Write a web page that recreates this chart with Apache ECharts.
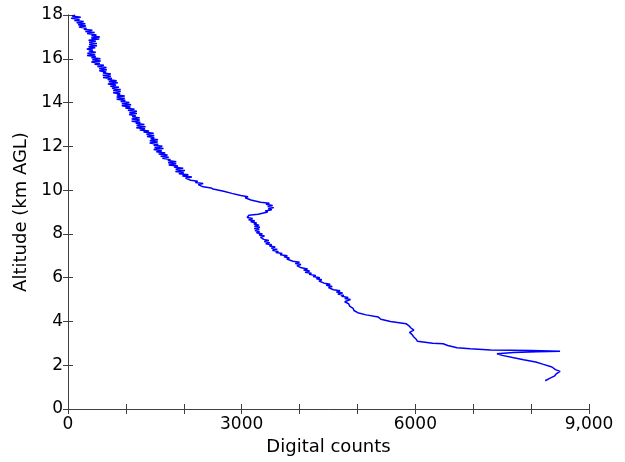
<!DOCTYPE html>
<html>
<head>
<meta charset="utf-8">
<title>Altitude profile</title>
<script src="https://cdn.jsdelivr.net/npm/echarts@6/dist/echarts.min.js"></script>
<style>
  html, body { margin: 0; padding: 0; background: #fff; }
  #container { width: 625px; height: 462px; }
</style>
</head>
<body>
<div id="container"></div>
<script>
// altitude (km AGL) in path order, low end first
var altitude = [
  1.29, 1.40, 1.50, 1.62, 1.72, 1.80, 1.92, 2.05, 2.15, 2.25, 2.35, 2.45, 2.52,
  2.58, 2.62, 2.64, 2.67, 2.70, 2.75, 2.80, 2.90, 2.98,
  3.0, 3.1, 3.2, 3.3, 3.4, 3.5, 3.6, 3.7, 3.8, 3.9,
  4.0, 4.1, 4.2, 4.3, 4.4, 4.5, 4.6, 4.7, 4.8, 4.9,
  5.0, 5.05, 5.1, 5.15, 5.2, 5.25, 5.3, 5.35, 5.4, 5.45,
  5.5, 5.55, 5.6, 5.65, 5.7, 5.75, 5.8, 5.85, 5.9, 5.95,
  6.0, 6.05, 6.1, 6.15, 6.2, 6.25, 6.3, 6.35, 6.4, 6.45,
  6.5, 6.55, 6.6, 6.65, 6.7, 6.75, 6.8, 6.85, 6.9, 6.95,
  7.0, 7.05, 7.1, 7.15, 7.2, 7.25, 7.3, 7.35, 7.4, 7.45,
  7.5, 7.55, 7.6, 7.65, 7.7, 7.75, 7.8, 7.85, 7.9, 7.95,
  8.0, 8.05, 8.1, 8.15, 8.2, 8.25, 8.3, 8.35, 8.4, 8.45,
  8.5, 8.55, 8.6, 8.65, 8.7, 8.75, 8.8, 8.85, 8.9, 8.95,
  9.0, 9.05, 9.1, 9.15, 9.2, 9.25, 9.3, 9.35, 9.4, 9.45,
  9.5, 9.55, 9.6, 9.65, 9.7, 9.75, 9.8, 9.85, 9.9, 9.95,
  10.0, 10.05, 10.1, 10.15, 10.2, 10.25, 10.3, 10.35, 10.4, 10.45,
  10.5, 10.55, 10.6, 10.65, 10.7, 10.75, 10.8, 10.85, 10.9, 10.95,
  11.0, 11.05, 11.1, 11.15, 11.2, 11.25, 11.3, 11.35, 11.4, 11.45,
  11.5, 11.55, 11.6, 11.65, 11.7, 11.75, 11.8, 11.85, 11.9, 11.95,
  12.0, 12.05, 12.1, 12.15, 12.2, 12.25, 12.3, 12.35, 12.4, 12.45,
  12.5, 12.55, 12.6, 12.65, 12.7, 12.75, 12.8, 12.85, 12.9, 12.95,
  13.0, 13.05, 13.1, 13.15, 13.2, 13.25, 13.3, 13.35, 13.4, 13.45,
  13.5, 13.55, 13.6, 13.65, 13.7, 13.75, 13.8, 13.85, 13.9, 13.95,
  14.0, 14.05, 14.1, 14.15, 14.2, 14.25, 14.3, 14.35, 14.4, 14.45,
  14.5, 14.55, 14.6, 14.65, 14.7, 14.75, 14.8, 14.85, 14.9, 14.95,
  15.0, 15.05, 15.1, 15.15, 15.2, 15.25, 15.3, 15.35, 15.4, 15.45,
  15.5, 15.55, 15.6, 15.65, 15.7, 15.75, 15.8, 15.85, 15.9, 15.95,
  16.0, 16.05, 16.1, 16.15, 16.2, 16.25, 16.3, 16.35, 16.4, 16.45,
  16.5, 16.55, 16.6, 16.65, 16.7, 16.75, 16.8, 16.85, 16.9, 16.95,
  17.0, 17.05, 17.1, 17.15, 17.2, 17.25, 17.3, 17.35, 17.4, 17.45,
  17.5, 17.55, 17.6, 17.65, 17.7, 17.75, 17.8, 17.85, 17.9, 17.95,
  18.0
];

// digital counts at each altitude above
var counts = [
  8243, 8320, 8400, 8440, 8500, 8420, 8360, 8200, 8080, 7870, 7680, 7500, 7410,
  7700, 8100, 8500, 8000, 7300, 6950, 6720, 6560, 6480,
  6300, 6035, 6010, 5970, 5945, 5900, 5975, 5925, 5890, 5840,
  5570, 5405, 5360, 5150, 5005, 4940, 4925, 4865, 4850, 4780,
  4880, 4780, 4840, 4725, 4765, 4660, 4745, 4635, 4700, 4585,
  4610, 4500, 4565, 4460, 4530, 4425, 4440, 4335, 4385, 4290,
  4350, 4235, 4280, 4165, 4205, 4095, 4175, 4070, 4140, 4030,
  4060, 3955, 4025, 3925, 4000, 3885, 3890, 3780, 3825, 3730,
  3790, 3665, 3700, 3590, 3635, 3530, 3615, 3510, 3580, 3480,
  3520, 3415, 3485, 3390, 3470, 3380, 3410, 3325, 3395, 3300,
  3360, 3255, 3310, 3230, 3305, 3215, 3315, 3220, 3300, 3210,
  3260, 3155, 3225, 3120, 3190, 3095, 3120, 3125, 3285, 3290,
  3450, 3405, 3520, 3460, 3555, 3450, 3535, 3420, 3480, 3325,
  3310, 3160, 3185, 3060, 3110, 2985, 2980, 2830, 2835, 2690,
  2700, 2505, 2470, 2335, 2355, 2250, 2335, 2200, 2240, 2120,
  2140, 2030, 2140, 1975, 2080, 1915, 2000, 1855, 2020, 1860,
  1990, 1830, 1900, 1740, 1870, 1730, 1870, 1725, 1770, 1630,
  1740, 1600, 1720, 1565, 1680, 1525, 1620, 1480, 1650, 1495,
  1630, 1480, 1560, 1410, 1550, 1413, 1555, 1428, 1490, 1365,
  1490, 1355, 1480, 1305, 1400, 1240, 1330, 1180, 1340, 1185,
  1320, 1170, 1250, 1100, 1240, 1100, 1240, 1110, 1170, 1055,
  1190, 1060, 1190, 1035, 1150, 990, 1080, 930, 1090, 930,
  1060, 910, 990, 840, 980, 840, 980, 845, 900, 780,
  910, 780, 910, 760, 880, 730, 830, 690, 860, 705,
  840, 685, 760, 605, 740, 600, 740, 605, 660, 540,
  670, 538, 665, 508, 620, 460, 550, 403, 565, 418,
  560, 405, 480, 330, 470, 335, 480, 360, 430, 325,
  470, 355, 500, 365, 500, 365, 480, 355, 540, 400,
  550, 405, 490, 330, 460, 300, 420, 275, 320, 190,
  310, 175, 300, 150, 270, 110, 200, 55, 220, 70,
  120
];

// labelled x ticks (the others are unlabelled)
var xTickValues = [0, 3000, 6000, 9000];
var xTickLabels = ['0', '3000', '6000', '9,000'];

var axisColor = '#404040';
var fontFamily = '"DejaVu Sans", Arial, sans-serif';

var points = [];
for (var i = 0; i < counts.length; i++) {
  points.push([counts[i], altitude[i]]);
}

function boxAxis(extra) {
  var a = {
    type: 'value',
    axisLine: { show: true, lineStyle: { color: axisColor, width: 1 } },
    axisTick: { show: true, inside: true, length: 5, lineStyle: { color: axisColor } },
    splitLine: { show: false }
  };
  for (var k in extra) a[k] = extra[k];
  return a;
}

var option = {
  animation: false,
  backgroundColor: '#fff',
  grid: { left: 68, right: 36, top: 15, bottom: 53 },
  xAxis: [
    boxAxis({
      position: 'bottom', min: 0, max: 9000, interval: 1000,
      name: 'Digital counts', nameLocation: 'middle', nameGap: 29,
      nameTextStyle: { fontFamily: fontFamily, fontSize: 18, color: '#000' },
      axisLabel: {
        fontFamily: fontFamily, fontSize: 17, color: '#000', margin: 7,
        formatter: function (v) {
          var idx = xTickValues.indexOf(v);
          return idx >= 0 ? xTickLabels[idx] : '';
        }
      }
    }),
    boxAxis({ position: 'top', min: 0, max: 9000, interval: 1000, axisLabel: { show: false } })
  ],
  yAxis: [
    boxAxis({
      position: 'left', min: 0, max: 18, interval: 2,
      name: 'Altitude (km AGL)', nameLocation: 'middle', nameGap: 35,
      nameTextStyle: { fontFamily: fontFamily, fontSize: 18, color: '#000' },
      axisLabel: { fontFamily: fontFamily, fontSize: 17, color: '#000', margin: 5 }
    }),
    boxAxis({ position: 'right', min: 0, max: 18, interval: 2, axisLabel: { show: false } })
  ],
  series: [{
    type: 'line',
    xAxisIndex: 0,
    yAxisIndex: 0,
    data: points,
    showSymbol: false,
    symbol: 'none',
    lineStyle: { color: '#0000ff', width: 1.5 },
    itemStyle: { color: '#0000ff' }
  }]
};

echarts.init(document.getElementById('container')).setOption(option);
</script>
</body>
</html>
